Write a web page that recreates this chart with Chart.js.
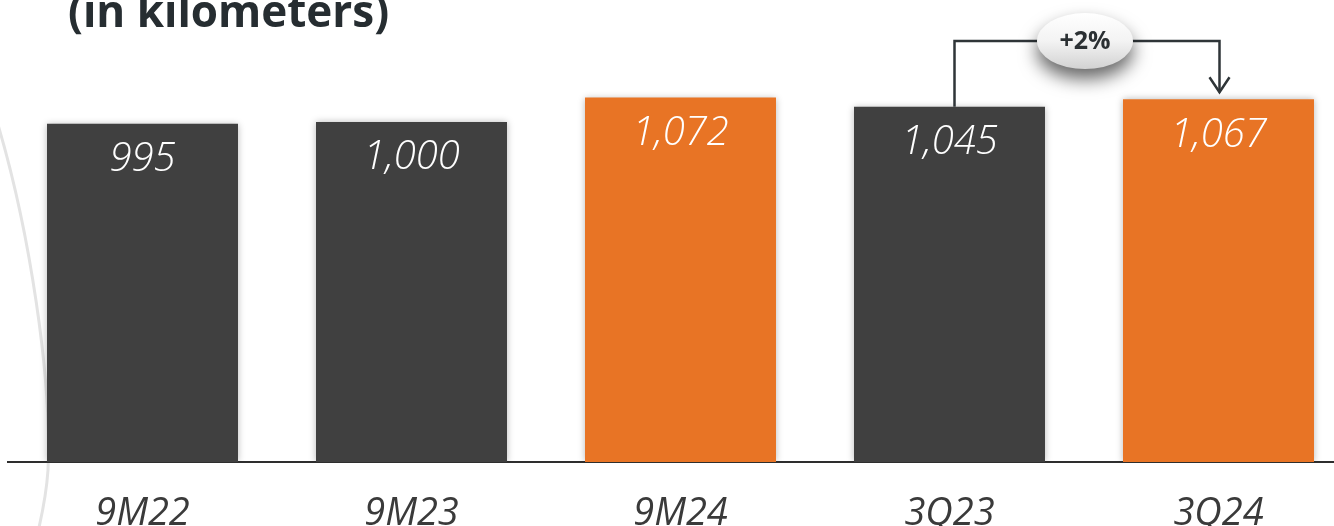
<!DOCTYPE html>
<html>
<head>
<meta charset="utf-8">
<script src="https://cdn.jsdelivr.net/npm/chart.js@4.4.1/dist/chart.umd.min.js"></script>
<style>
  html, body { margin: 0; padding: 0; background: #ffffff; overflow: hidden; }
  #wrap { position: relative; width: 1353px; height: 526px; }
</style>
</head>
<body>
<div id="wrap"><canvas id="chart"></canvas></div>
<script>
// Kilometres of network, by period
const categories = ['9M22', '9M23', '9M24', '3Q23', '3Q24'];
const kilometers = [995, 1000, 1072, 1045, 1067];
const barColors = ['#404040', '#404040', '#e87425', '#404040', '#e87425'];
const titleText = '(in kilometers)';
// Quarter-on-quarter change shown with the bracket between 3Q23 and 3Q24
const changeFrom = 3;
const changeTo = 4;
const changeLabel = '+2%';
const bracketLevel = 1238;

const FONT = "'Open Sans', 'DejaVu Sans', sans-serif";
const fmt = v => v.toLocaleString('en-US');

// Thin grey arc running down the left edge
const backdrop = {
  id: 'backdrop',
  beforeDraw(chart) {
    const ctx = chart.ctx;
    ctx.save();
    ctx.strokeStyle = '#e3e3e3';
    ctx.lineWidth = 3;
    ctx.beginPath();
    ctx.moveTo(-4, 118);
    ctx.bezierCurveTo(30, 230, 52, 380, 48, 470);
    ctx.quadraticCurveTo(46, 500, 36, 540);
    ctx.stroke();
    ctx.restore();
  }
};

// Soft shadow round the bars
const barShadow = {
  id: 'barShadow',
  beforeDatasetsDraw(chart) {
    const ctx = chart.ctx;
    ctx.save();
    ctx.shadowColor = 'rgba(0,0,0,0.28)';
    ctx.shadowBlur = 7;
    ctx.shadowOffsetX = 0;
    ctx.shadowOffsetY = 0;
  },
  afterDatasetsDraw(chart) {
    chart.ctx.restore();
  }
};

// Value labels inside the bar tops, title and change bracket
const overlay = {
  id: 'overlay',
  afterDatasetsDraw(chart) {
    const ctx = chart.ctx;
    const meta = chart.getDatasetMeta(0);
    const yScale = chart.scales.y;

    ctx.save();
    ctx.fillStyle = '#ffffff';
    ctx.font = `italic 300 40px ${FONT}`;
    ctx.textAlign = 'center';
    ctx.textBaseline = 'middle';
    meta.data.forEach((bar, i) => {
      ctx.fillText(fmt(kilometers[i]), bar.x, bar.y + 36);
    });
    ctx.restore();

    // Title (partly above the top edge)
    ctx.save();
    ctx.fillStyle = '#262d31';
    ctx.font = `bold 44px ${FONT}`;
    ctx.textAlign = 'left';
    ctx.textBaseline = 'alphabetic';
    ctx.fillText(titleText, 68, 27);
    ctx.restore();

    // Bracket from one bar to the other with a down arrow
    const a = meta.data[changeFrom];
    const b = meta.data[changeTo];
    const yb = yScale.getPixelForValue(bracketLevel);
    const tip = b.y - 7;
    ctx.save();
    ctx.strokeStyle = '#2f3538';
    ctx.lineWidth = 2.5;
    ctx.lineJoin = 'miter';
    ctx.beginPath();
    ctx.moveTo(a.x + 5, a.y);
    ctx.lineTo(a.x + 5, yb);
    ctx.lineTo(b.x + 1, yb);
    ctx.lineTo(b.x + 1, tip);
    ctx.stroke();
    ctx.beginPath();
    ctx.moveTo(b.x - 9, tip - 15);
    ctx.lineTo(b.x + 1, tip);
    ctx.lineTo(b.x + 11, tip - 15);
    ctx.stroke();

    // Pill with the change value
    const cx = (a.x + b.x) / 2 + 1;
    const cy = yb;
    ctx.save();
    ctx.shadowColor = 'rgba(0,0,0,0.6)';
    ctx.shadowBlur = 18;
    ctx.shadowOffsetY = 10;
    const g = ctx.createLinearGradient(0, cy - 28, 0, cy + 28);
    g.addColorStop(0, '#ffffff');
    g.addColorStop(0.5, '#f3f3f3');
    g.addColorStop(1, '#d2d2d2');
    ctx.fillStyle = g;
    ctx.beginPath();
    ctx.ellipse(cx, cy, 48, 28, 0, 0, Math.PI * 2);
    ctx.fill();
    ctx.restore();
    ctx.fillStyle = '#2b3033';
    ctx.font = `bold 25px ${FONT}`;
    ctx.textAlign = 'center';
    ctx.textBaseline = 'middle';
    ctx.fillText(changeLabel, cx, cy + 1);
    ctx.restore();
  }
};

new Chart(document.getElementById('chart'), {
  type: 'bar',
  data: {
    labels: categories,
    datasets: [{
      data: kilometers,
      backgroundColor: barColors,
      borderWidth: 0,
      categoryPercentage: 1,
      barPercentage: 0.71
    }]
  },
  options: {
    responsive: true,
    maintainAspectRatio: false,
    animation: false,
    layout: { padding: { top: 20, left: 8, right: 0, bottom: 0 } },
    plugins: {
      legend: { display: false },
      tooltip: { enabled: false },
      title: { display: false }
    },
    scales: {
      x: {
        offset: true,
        grid: { display: false, drawTicks: false },
        border: { display: true, color: '#2e2e2e', width: 2 },
        ticks: {
          color: '#3a3a3a',
          padding: 29,
          font: { family: FONT, size: 38, style: 'italic', weight: '400' }
        },
        afterFit(scale) { scale.height = 64; }
      },
      y: {
        display: false,
        min: 0,
        max: 1300
      }
    }
  },
  plugins: [backdrop, barShadow, overlay]
});
</script>
</body>
</html>
